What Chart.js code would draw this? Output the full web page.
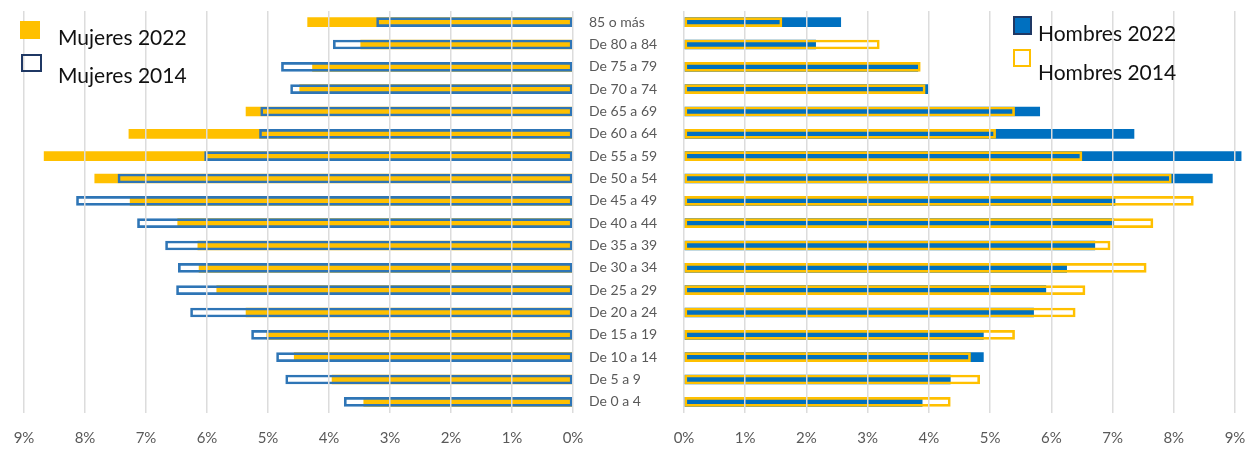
<!DOCTYPE html>
<html>
<head>
<meta charset="utf-8">
<script src="https://cdn.jsdelivr.net/npm/chart.js@4"></script>
<style>
  body { margin: 0; background: #fff; }
  #wrap { position: relative; width: 1250px; height: 449px; font-family: Lato, sans-serif; }
  canvas { position: absolute; left: 0; top: 0; }
  .lg { position: absolute; font-size: 21px; color: #111; white-space: nowrap; }
  .sw { position: absolute; box-sizing: border-box; }
</style>
</head>
<body>
<div id="wrap">
  <canvas id="mujeresChart" width="1250" height="449"></canvas>
  <canvas id="hombresChart" width="1250" height="449"></canvas>

  <div class="sw" style="left:20px;top:21px;width:20px;height:18px;background:#FFC000;"></div>
  <div class="lg" style="left:58px;top:24px;">Mujeres 2022</div>
  <div class="sw" style="left:21px;top:54px;width:21px;height:18px;border:2px solid #1F3864;"></div>
  <div class="lg" style="left:58px;top:62px;">Mujeres 2014</div>

  <div class="sw" style="left:1013px;top:16px;width:19px;height:19px;background:#0070C0;border:2px solid #1F3864;"></div>
  <div class="lg" style="left:1038px;top:20px;">Hombres 2022</div>
  <div class="sw" style="left:1013px;top:49px;width:18px;height:18px;border:2px solid #FFC000;"></div>
  <div class="lg" style="left:1038px;top:59px;">Hombres 2014</div>
</div>
<script>
var ages = ['85 o más', 'De 80 a 84', 'De 75 a 79', 'De 70 a 74', 'De 65 a 69', 'De 60 a 64',
            'De 55 a 59', 'De 50 a 54', 'De 45 a 49', 'De 40 a 44', 'De 35 a 39', 'De 30 a 34',
            'De 25 a 29', 'De 20 a 24', 'De 15 a 19', 'De 10 a 14', 'De 5 a 9', 'De 0 a 4'];

var mujeres2022 = [4.35, 3.48, 4.27, 4.48, 5.36, 7.28, 8.67, 7.84, 7.26, 6.48, 6.15, 6.13, 5.84, 5.36, 5.02, 4.57, 3.95, 3.43];
var mujeres2014 = [3.22, 3.93, 4.78, 4.63, 5.12, 5.14, 6.04, 7.46, 8.14, 7.14, 6.68, 6.47, 6.50, 6.27, 5.27, 4.86, 4.71, 3.75];
var hombres2022 = [2.56, 2.15, 3.82, 3.99, 5.81, 7.35, 9.10, 8.63, 7.04, 7.02, 6.71, 6.25, 5.91, 5.71, 4.89, 4.89, 4.35, 3.89];
var hombres2014 = [1.60, 3.19, 3.86, 3.94, 5.40, 5.09, 6.50, 7.96, 8.32, 7.66, 6.96, 7.55, 6.55, 6.39, 5.40, 4.68, 4.83, 4.35];

var pctTicks = [0, 1, 2, 3, 4, 5, 6, 7, 8, 9];

var gridColor = '#dcdcdc';
var textGrey = '#595959';

function xAxis(reverse) {
    return {
        type: 'linear',
        min: pctTicks[0],
        max: pctTicks[pctTicks.length - 1],
        reverse: reverse,
        afterFit: function (s) {
            s.height = 36;
            s.paddingLeft = 0;
            s.paddingRight = 0;
        },
        afterBuildTicks: function (s) { s.ticks = pctTicks.map(function (v) { return { value: v }; }); },
        ticks: {
            padding: 16,
            color: textGrey,
            font: { family: 'Lato', size: 15 },
            callback: function (v) { return v + '%'; }
        },
        grid: { color: gridColor, lineWidth: 1.5, drawTicks: false, z: 1 },
        border: { display: false }
    };
}

// Mujeres (left side, axis reversed, age labels on its right)
var mujeresCtx = document.getElementById('mujeresChart').getContext('2d');
var mujeresChart = new Chart(mujeresCtx, {
    type: 'bar',
    data: {
        labels: ages,
        datasets: [{
            label: 'Mujeres 2014',
            data: mujeres2014,
            backgroundColor: 'rgba(0,0,0,0)',
            borderColor: '#2E75B6',
            borderWidth: 2,
            borderSkipped: false,
            grouped: false,
            barThickness: 9,
            order: 0
        }, {
            label: 'Mujeres 2022',
            data: mujeres2022,
            backgroundColor: '#FFC000',
            borderWidth: 0,
            grouped: false,
            barThickness: 9,
            order: 1
        }]
    },
    options: {
        indexAxis: 'y',
        responsive: false,
        animation: false,
        layout: { padding: { left: 24, right: 566, top: 11, bottom: 0 } },
        plugins: { legend: { display: false }, tooltip: { enabled: false } },
        scales: {
            x: xAxis(true),
            y: {
                position: 'right',
                afterFit: function (s) {
                    s.width = 111;
                    s.paddingTop = 0;
                    s.paddingBottom = 0;
                },
                ticks: {
                    padding: 16,
                    color: textGrey,
                    font: { family: 'Lato', size: 14 }
                },
                grid: { display: false, drawTicks: false },
                border: { display: false }
            }
        }
    }
});

// Hombres (right side)
var hombresCtx = document.getElementById('hombresChart').getContext('2d');
var hombresChart = new Chart(hombresCtx, {
    type: 'bar',
    data: {
        labels: ages,
        datasets: [{
            label: 'Hombres 2014',
            data: hombres2014,
            backgroundColor: 'rgba(0,0,0,0)',
            borderColor: '#FFC000',
            borderWidth: 2,
            borderSkipped: false,
            grouped: false,
            barThickness: 9,
            order: 0
        }, {
            label: 'Hombres 2022',
            data: hombres2022,
            backgroundColor: '#0070C0',
            borderWidth: 0,
            grouped: false,
            barThickness: 9,
            clip: false,
            order: 1
        }]
    },
    options: {
        indexAxis: 'y',
        responsive: false,
        animation: false,
        layout: { padding: { left: 684, right: 15, top: 11, bottom: 0 } },
        plugins: { legend: { display: false }, tooltip: { enabled: false } },
        scales: {
            x: xAxis(false),
            y: { display: false }
        }
    }
});
</script>
</body>
</html>
